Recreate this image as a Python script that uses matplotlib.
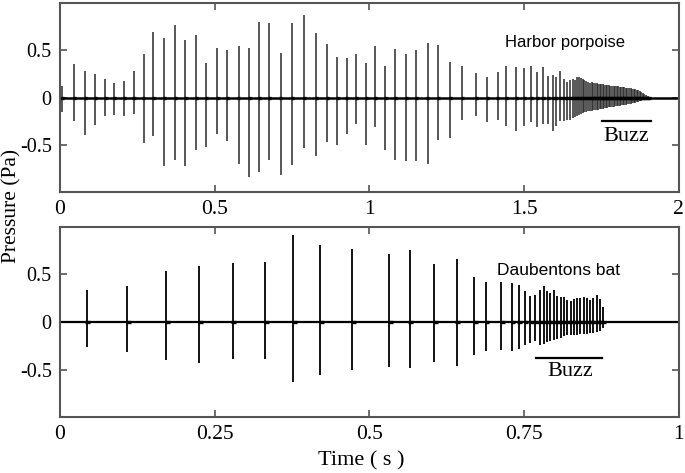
import numpy as np
import matplotlib.pyplot as plt

# harbor porpoise clicks: time (s), positive peak, negative peak (Pa)
porpoise_t = [0.008, 0.046, 0.081, 0.113, 0.145, 0.175, 0.206, 0.238, 0.270, 0.302,
              0.337, 0.372, 0.404, 0.440, 0.473, 0.507, 0.541, 0.577, 0.612, 0.644,
              0.677, 0.713, 0.751, 0.789, 0.828, 0.863, 0.896, 0.926, 0.958, 0.989,
              1.018, 1.051, 1.084, 1.118, 1.152, 1.188, 1.223, 1.260, 1.299, 1.344,
              1.380, 1.414, 1.443, 1.473, 1.499, 1.523, 1.542, 1.560, 1.577, 1.593,
              1.604, 1.616, 1.628, 1.639, 1.649]
porpoise_pos = [0.12, 0.35, 0.28, 0.25, 0.19, 0.15, 0.17, 0.28, 0.45, 0.68,
                0.62, 0.76, 0.60, 0.65, 0.36, 0.52, 0.49, 0.54, 0.52, 0.79,
                0.78, 0.46, 0.78, 0.86, 0.67, 0.56, 0.42, 0.41, 0.45, 0.36,
                0.54, 0.33, 0.51, 0.45, 0.50, 0.57, 0.55, 0.37, 0.33, 0.26,
                0.21, 0.27, 0.33, 0.32, 0.31, 0.33, 0.27, 0.32, 0.22, 0.23,
                0.21, 0.28, 0.19, 0.16, 0.18]
porpoise_neg = [0.15, 0.24, 0.39, 0.29, 0.19, 0.18, 0.19, 0.17, 0.47, 0.40,
                0.71, 0.65, 0.71, 0.55, 0.52, 0.38, 0.45, 0.69, 0.83, 0.78,
                0.65, 0.81, 0.70, 0.53, 0.61, 0.46, 0.50, 0.38, 0.28, 0.50,
                0.31, 0.55, 0.65, 0.66, 0.66, 0.69, 0.44, 0.42, 0.23, 0.19,
                0.26, 0.23, 0.30, 0.35, 0.30, 0.25, 0.31, 0.28, 0.28, 0.35,
                0.30, 0.24, 0.24, 0.23, 0.23]

# porpoise buzz
buzz_t = [1.657, 1.664, 1.671, 1.677, 1.683, 1.689, 1.695, 1.701, 1.707, 1.713,
          1.719, 1.724, 1.729, 1.734, 1.739, 1.744, 1.749, 1.754, 1.759, 1.764,
          1.769, 1.774, 1.779, 1.784, 1.789, 1.794, 1.799, 1.804, 1.809, 1.814,
          1.819, 1.824, 1.829, 1.834, 1.839, 1.844, 1.849, 1.854, 1.859, 1.864,
          1.869, 1.874, 1.879, 1.884, 1.889, 1.894, 1.899, 1.904]
buzz_pos = [0.19, 0.18, 0.215, 0.21, 0.20, 0.19, 0.18, 0.17, 0.16, 0.15,
            0.16, 0.15, 0.15, 0.15, 0.14, 0.14, 0.14, 0.14, 0.13, 0.13,
            0.13, 0.13, 0.12, 0.12, 0.12, 0.12, 0.12, 0.12, 0.11, 0.11,
            0.11, 0.11, 0.10, 0.10, 0.10, 0.10, 0.09, 0.09, 0.085, 0.08,
            0.075, 0.065, 0.055, 0.045, 0.04, 0.03, 0.02, 0.01]
buzz_neg = [0.21, 0.20, 0.19, 0.18, 0.17, 0.16, 0.15, 0.15, 0.14, 0.14,
            0.14, 0.13, 0.13, 0.13, 0.13, 0.12, 0.12, 0.12, 0.11, 0.11,
            0.11, 0.10, 0.10, 0.10, 0.10, 0.09, 0.09, 0.09, 0.09, 0.08,
            0.08, 0.08, 0.08, 0.07, 0.07, 0.07, 0.06, 0.06, 0.055, 0.05,
            0.045, 0.04, 0.035, 0.03, 0.025, 0.02, 0.01, 0.005]

# daubentons bat clicks
bat_t = [0.043, 0.109, 0.172, 0.225, 0.279, 0.331, 0.377, 0.420, 0.472, 0.532,
         0.565, 0.605, 0.641, 0.669, 0.688, 0.713, 0.730, 0.741, 0.751, 0.760,
         0.768, 0.776, 0.782, 0.787, 0.7925, 0.798, 0.803, 0.809, 0.814, 0.819,
         0.825, 0.830, 0.835, 0.841, 0.846, 0.852, 0.857, 0.862, 0.868, 0.872,
         0.877]
bat_pos = [0.33, 0.38, 0.53, 0.58, 0.61, 0.63, 0.91, 0.80, 0.76, 0.71,
           0.75, 0.60, 0.66, 0.47, 0.42, 0.42, 0.41, 0.39, 0.32, 0.27,
           0.285, 0.33, 0.38, 0.32, 0.30, 0.33, 0.27, 0.26, 0.26, 0.23,
           0.22, 0.24, 0.25, 0.25, 0.26, 0.25, 0.23, 0.25, 0.285, 0.24,
           0.16]
bat_neg = [0.26, 0.31, 0.40, 0.43, 0.39, 0.39, 0.63, 0.55, 0.50, 0.47,
           0.48, 0.42, 0.455, 0.345, 0.30, 0.29, 0.30, 0.28, 0.24, 0.22,
           0.20, 0.24, 0.23, 0.21, 0.20, 0.19, 0.18, 0.17, 0.15, 0.14,
           0.14, 0.14, 0.14, 0.13, 0.12, 0.125, 0.115, 0.11, 0.10, 0.09,
           0.06]

plt.rcParams['font.family'] = ['Liberation Serif', 'DejaVu Serif']

fig = plt.figure(figsize=(6.85, 4.73), dpi=100)
ax1 = fig.add_axes([0.0876, 0.594, 0.9034, 0.3997])
ax2 = fig.add_axes([0.0876, 0.1184, 0.9034, 0.4016])

# porpoise
t1 = np.array(porpoise_t + buzz_t)
p1 = np.array(porpoise_pos + buzz_pos)
n1 = np.array(porpoise_neg + buzz_neg)
ax1.vlines(t1, -n1, p1, color='#2a2a2a', lw=1.1)
ax1.hlines(np.zeros(len(t1)), t1 - 0.004, t1 + 0.006, color='k', lw=2.4)
ax1.plot([0, 2], [0, 0], color='k', lw=1.8)
ax1.set_xlim(0, 2)
ax1.set_ylim(-0.985, 0.985)
ax1.set_xticks([0, 0.5, 1, 1.5, 2])
ax1.set_xticklabels(['0', '0.5', '1', '1.5', '2'])
ax1.text(1.632, 0.57, 'Harbor porpoise', family='Liberation Sans', fontsize=12,
         ha='center', va='center')
ax1.plot([1.752, 1.910], [-0.24, -0.24], color='k', lw=1.6)
ax1.text(1.83, -0.41, 'Buzz', fontsize=16, ha='center', va='center')

# bat
t2 = np.array(bat_t)
p2 = np.array(bat_pos)
n2 = np.array(bat_neg)
ax2.vlines(t2, -n2, p2, color='k', lw=1.3)
ax2.hlines(np.zeros(len(t2)), t2 - 0.002, t2 + 0.006, color='k', lw=2.4)
ax2.plot([0, 1], [0, 0], color='k', lw=1.6)
ax2.set_xlim(0, 1)
ax2.set_ylim(-0.99, 0.99)
ax2.set_xticks([0, 0.25, 0.5, 0.75, 1])
ax2.set_xticklabels(['0', '0.25', '0.5', '0.75', '1'])
ax2.text(0.806, 0.54, 'Daubentons bat', family='Liberation Sans', fontsize=12.5,
         ha='center', va='center')
ax2.plot([0.769, 0.876], [-0.375, -0.375], color='k', lw=1.6)
ax2.text(0.824, -0.52, 'Buzz', fontsize=16, ha='center', va='center')

for ax in (ax1, ax2):
    ax.set_yticks([-0.5, 0, 0.5])
    ax.set_yticklabels(['-0.5', '0', '0.5'])
    ax.tick_params(axis='y', labelsize=14.5)
    ax.tick_params(axis='x', labelsize=15.5)
    ax.tick_params(direction='in', top=True, right=True, length=5, width=1.2,
                   color='#555555', pad=6)
    for s in ax.spines.values():
        s.set_color('#555555')
        s.set_linewidth(1.5)

fig.text(0.018, 0.565, 'Pressure (Pa)', rotation=90, fontsize=15.5,
         ha='center', va='center')
fig.text(0.528, 0.026, 'Time ( s )', fontsize=16, ha='center', va='center')

fig.savefig('out.png', dpi=100)
